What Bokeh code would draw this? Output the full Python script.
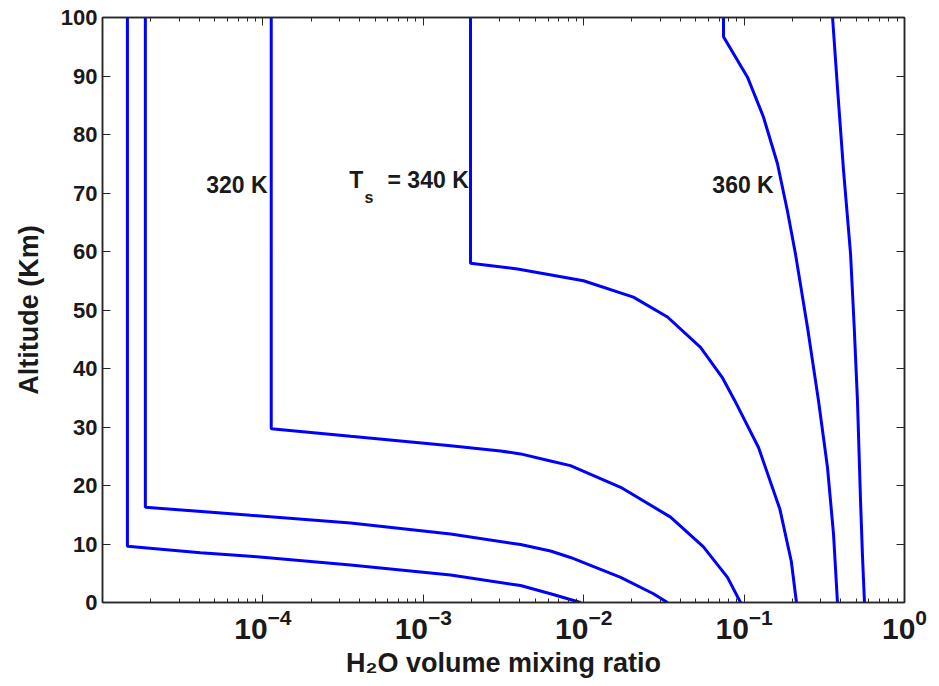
from bokeh.plotting import figure
from bokeh.models import Range1d, FixedTicker, LogAxis, LinearAxis, LogTickFormatter, CustomJSTickFormatter
from bokeh.core.properties import value
from bokeh.embed import file_html
from bokeh.resources import INLINE

# ---- data (H2O volume mixing ratio vs altitude in km) ----
vmr_1 = [1.43e-5, 1.43e-5, 4.08e-5, 8.37e-5, 3.52e-4, 1.48e-3, 4.04e-3, 6.21e-3, 9.55e-3]
alt_1 = [100, 9.6, 8.5, 7.9, 6.4, 4.7, 2.9, 1.5, 0]

vmr_2 = [1.85e-5, 1.85e-5, 8.37e-5, 3.52e-4, 1.48e-3, 4.04e-3, 6.21e-3, 8.27e-3, 1.70e-2, 2.72e-2, 3.33e-2]
alt_2 = [100, 16.3, 14.9, 13.6, 11.7, 9.9, 8.8, 7.7, 4.3, 1.5, 0]

vmr_3 = [1.127e-4, 1.127e-4, 3.52e-4, 1.48e-3, 3.03e-3, 4.04e-3, 6.21e-3, 8.27e-3, 1.70e-2, 3.48e-2, 5.58e-2, 7.88e-2, 9.50e-2]
alt_3 = [100, 29.7, 28.4, 26.8, 25.9, 25.4, 24.2, 23.4, 19.7, 14.6, 9.5, 4.3, 0]

vmr_4 = [1.97e-3, 1.97e-3, 3.87e-3, 9.97e-3, 2.04e-2, 3.33e-2, 5.35e-2, 7.30e-2, 8.75e-2, 0.123, 0.167, 0.197, 0.212]
alt_4 = [100, 58.0, 57.0, 55.0, 52.2, 48.8, 43.6, 38.5, 34.5, 26.5, 16.0, 7.0, 0]

vmr_5 = [7.44e-2, 7.44e-2, 0.105, 0.132, 0.1615, 0.186, 0.209, 0.2485, 0.291, 0.331, 0.361, 0.382]
alt_5 = [100, 96.7, 89.8, 83.0, 75.0, 67.0, 59.6, 47.0, 34.5, 23.1, 11.7, 0]

vmr_6 = [0.356, 0.382, 0.417, 0.461, 0.486, 0.509, 0.532, 0.547, 0.563]
alt_6 = [100, 88.0, 73.8, 59.6, 47.0, 34.5, 17.4, 8.0, 0]

curves = [(vmr_1, alt_1), (vmr_2, alt_2), (vmr_3, alt_3),
          (vmr_4, alt_4), (vmr_5, alt_5), (vmr_6, alt_6)]

x_major_ticks = [1e-4, 1e-3, 1e-2, 1e-1, 1.0]
x_minor_ticks = [k * 10.0 ** e for e in range(-5, 0) for k in range(2, 10)]
y_ticks = [0, 10, 20, 30, 40, 50, 60, 70, 80, 90, 100]

FONT = "Liberation Sans"
INK = "#1a1a1a"
FRAME = "#262626"

p = figure(x_axis_type="log", x_range=Range1d(1e-5, 1.0), y_range=Range1d(0, 100),
           frame_width=802, frame_height=585,
           min_border_left=102, min_border_right=27, min_border_top=17, min_border_bottom=70,
           output_backend="svg", toolbar_location=None)

p.xgrid.visible = False
p.ygrid.visible = False
p.outline_line_color = FRAME
p.outline_line_width = 1.5
p.background_fill_color = "white"
p.border_fill_color = "white"

for xs, ys in curves:
    p.line(xs, ys, line_color="#0000ff", line_width=3)

# bottom axis
xa = p.xaxis[0]
xa.ticker = FixedTicker(ticks=x_major_ticks, minor_ticks=x_minor_ticks)
xa.formatter = LogTickFormatter()
xa.axis_label = "H₂O volume mixing ratio"
# left axis
ya = p.yaxis[0]
ya.ticker = FixedTicker(ticks=y_ticks)
ya.axis_label = "Altitude (Km)"

blank = CustomJSTickFormatter(code="return ' '")
top = LogAxis(ticker=FixedTicker(ticks=x_major_ticks, minor_ticks=x_minor_ticks),
              formatter=blank, major_label_text_font_size="2px",
              major_label_text_alpha=0, major_label_standoff=0)
right = LinearAxis(ticker=FixedTicker(ticks=y_ticks), formatter=blank,
                   major_label_text_font_size="2px",
                   major_label_text_alpha=0, major_label_standoff=0)
p.add_layout(top, "above")
p.add_layout(right, "right")

for ax in [xa, ya, top, right]:
    ax.axis_line_color = FRAME
    ax.axis_line_width = 1.5
    ax.major_tick_line_color = FRAME
    ax.minor_tick_line_color = FRAME
    ax.major_tick_in = 8
    ax.major_tick_out = 0
    ax.minor_tick_in = 4
    ax.minor_tick_out = 0
    ax.major_label_text_font = FONT
    ax.major_label_text_font_style = "bold"
    ax.axis_label_text_font = FONT
    ax.axis_label_text_font_style = "bold"
    ax.axis_label_text_color = INK
    ax.axis_label_text_font_size = "27px"

xa.major_label_text_color = INK
ya.major_label_text_color = INK
xa.major_label_text_font_size = "30px"
ya.major_label_text_font_size = "22px"
xa.major_label_standoff = 6
ya.major_label_standoff = 5
xa.axis_label_standoff = 6
ya.axis_label_standoff = 14

# annotations
label_txt = ["320 K", "360 K", "= 340 K"]
label_x = [1.07e-4, 0.153, 1.92e-3]
label_y = [71.4, 71.4, 72.2]
p.text(x=label_x, y=label_y, text=label_txt, text_align="right", text_baseline="alphabetic",
       text_font=value(FONT), text_font_style="bold", text_font_size="23px", text_color=INK)
p.text(x=[3.45e-4], y=[72.2], text=["T"], text_align="left", text_baseline="alphabetic",
       text_font=value(FONT), text_font_style="bold", text_font_size="23px", text_color=INK)
p.text(x=[4.3e-4], y=[69.3], text=["s"], text_align="left", text_baseline="alphabetic",
       text_font=value(FONT), text_font_style="bold", text_font_size="16px", text_color=INK)

open("out.html", "w").write(file_html(p, INLINE))
